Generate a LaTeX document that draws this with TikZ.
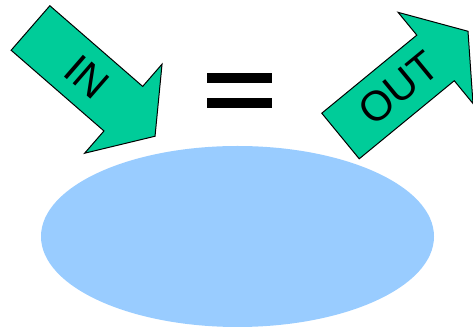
\documentclass[tikz,border=0pt]{standalone}
\usepackage{fontspec}
\setmainfont{Liberation Sans}
\usetikzlibrary{positioning}

\definecolor{arrowgreen}{RGB}{0,204,153}
\definecolor{poolblue}{RGB}{153,204,255}

\tikzset{
  flowarrow/.style={draw=black, line width=1pt, fill=arrowgreen, line join=miter},
  flowlabel/.style={font=\fontsize{42}{42}\selectfont, inner sep=0pt, transform shape},
}

\begin{document}
\begin{tikzpicture}[x=1pt, y=1pt]
    \useasboundingbox (0,0) rectangle (473,331);

    % Ellipse
    \fill[poolblue] (237.5,94.5) ellipse [x radius=196.5, y radius=90.5];

    % IN arrow
    \begin{scope}[shift={(30.5,303)}, rotate=-41]
        \draw[flowarrow] (0,-29.5) -- (123,-29.5) -- (123,-59) -- (165,0)
            -- (123,59) -- (123,29.5) -- (0,29.5) -- cycle;
        \node[flowlabel] (in) at (75,0) {IN};
    \end{scope}

    % OUT arrow
    \begin{scope}[shift={(340.5,195)}, rotate=39.4]
        \draw[flowarrow] (0,-29.5) -- (123,-29.5) -- (123,-59) -- (165,0)
            -- (123,59) -- (123,29.5) -- (0,29.5) -- cycle;
        \node[flowlabel] (out) at (75,0) {OUT};
    \end{scope}

    % Equals sign
    \fill[black] (207,248) rectangle (272,258);
    \fill[black] (207,223) rectangle (272,233);
\end{tikzpicture}
\end{document}
